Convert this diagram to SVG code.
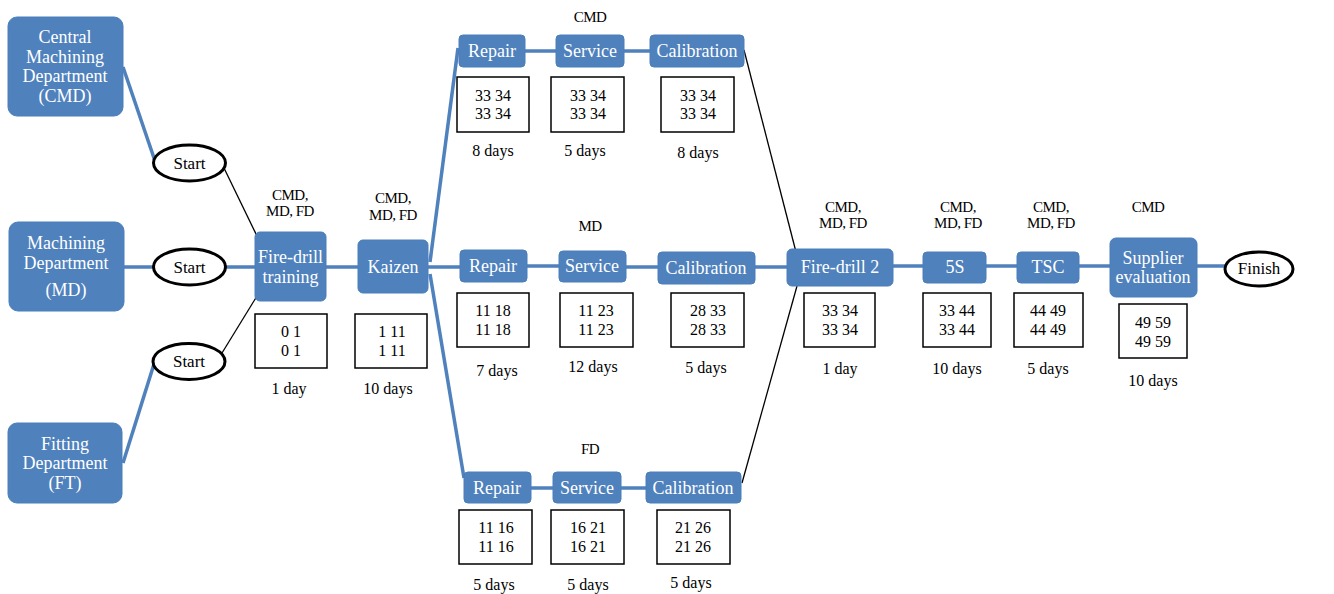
<svg xmlns="http://www.w3.org/2000/svg" width="1334" height="594" viewBox="0 0 1334 594" font-family="'Liberation Serif', 'DejaVu Serif', serif">
<style>
.box{fill:#4F81BD;stroke:#4A7EBB;stroke-width:1}
.bt{font-size:18px;fill:#fff;text-anchor:middle;dominant-baseline:central}
.dt{font-size:18px;fill:#fff;text-anchor:middle;dominant-baseline:central}
.st{fill:#fff;stroke:#000;stroke-width:3}
.stt{font-size:17px;fill:#000;text-anchor:middle;dominant-baseline:central}
.db{fill:#fff;stroke:#000;stroke-width:1.5}
.num{font-size:16px;fill:#000;text-anchor:middle;dominant-baseline:central}
.lbl{font-size:15px;fill:#000;text-anchor:middle;dominant-baseline:central;letter-spacing:-0.5px}
.bl{stroke:#4F81BD;stroke-width:3.5;fill:none}
.kl{stroke:#000;stroke-width:1.3;fill:none}
</style>
<rect width="1334" height="594" fill="#fff"/>
<g id="connectors">
<line class="bl" x1="123" y1="67" x2="155" y2="161"/>
<line class="bl" x1="124" y1="267" x2="153" y2="267"/>
<line class="bl" x1="226" y1="267" x2="255" y2="267"/>
<line class="bl" x1="123" y1="463" x2="154" y2="364"/>
<line class="kl" x1="224" y1="168" x2="257" y2="236"/>
<line class="kl" x1="222" y1="353" x2="257" y2="296"/>
<line class="bl" x1="326" y1="267" x2="358" y2="267"/>
<line class="bl" x1="430" y1="262" x2="458" y2="48"/>
<line class="bl" x1="428" y1="267" x2="460" y2="267"/>
<line class="bl" x1="430" y1="274" x2="464" y2="478"/>
<line class="bl" x1="525" y1="51" x2="556" y2="51"/>
<line class="bl" x1="624" y1="51" x2="650" y2="51"/>
<line class="bl" x1="527" y1="266" x2="559" y2="266"/>
<line class="bl" x1="626" y1="267" x2="658" y2="267"/>
<line class="bl" x1="755" y1="267" x2="787" y2="267"/>
<line class="bl" x1="531" y1="488" x2="553" y2="488"/>
<line class="bl" x1="621" y1="488" x2="646" y2="488"/>
<line class="kl" x1="744" y1="50" x2="796" y2="252"/>
<line class="kl" x1="742" y1="483" x2="797" y2="286"/>
<line class="bl" x1="893" y1="266" x2="923" y2="266"/>
<line class="bl" x1="986" y1="266" x2="1017" y2="266"/>
<line class="bl" x1="1079" y1="266" x2="1110" y2="266"/>
<line class="bl" x1="1197" y1="266" x2="1225" y2="266"/>
</g>
<g id="cmd-dept">
<rect class="box" x="8" y="17" width="115" height="99" rx="9"/>
<text class="dt" x="65" y="37">Central</text>
<text class="dt" x="65" y="57">Machining</text>
<text class="dt" x="65" y="76">Department</text>
<text class="dt" x="65" y="96">(CMD)</text>
</g>
<g id="md-dept">
<rect class="box" x="9" y="222" width="115" height="89" rx="9"/>
<text class="dt" x="66" y="243">Machining</text>
<text class="dt" x="66" y="263">Department</text>
<text class="dt" x="66" y="290">(MD)</text>
</g>
<g id="ft-dept">
<rect class="box" x="8" y="423" width="114" height="80" rx="9"/>
<text class="dt" x="65" y="444">Fitting</text>
<text class="dt" x="65" y="463">Department</text>
<text class="dt" x="65" y="483">(FT)</text>
</g>
<g id="start1">
<ellipse class="st" cx="189.5" cy="163" rx="36" ry="18"/>
<text class="stt" x="189.5" y="163">Start</text>
</g>
<g id="start2">
<ellipse class="st" cx="189.5" cy="267" rx="36" ry="18"/>
<text class="stt" x="189.5" y="267">Start</text>
</g>
<g id="start3">
<ellipse class="st" cx="189" cy="361.5" rx="36" ry="18"/>
<text class="stt" x="189" y="361.5">Start</text>
</g>
<g id="fire-drill-training">
<text class="lbl" x="290" y="195">CMD,</text>
<text class="lbl" x="290" y="211">MD, FD</text>
<rect class="box" x="255" y="232" width="71" height="69" rx="5"/>
<text class="bt" x="290.5" y="257">Fire-drill</text>
<text class="bt" x="290.5" y="277">training</text>
<rect class="db" x="255" y="314" width="72" height="54"/>
<text class="num" x="291" y="331">0 1</text>
<text class="num" x="291" y="350">0 1</text>
<text class="num" x="289" y="388">1 day</text>
</g>
<g id="kaizen">
<text class="lbl" x="393" y="198">CMD,</text>
<text class="lbl" x="393" y="215">MD, FD</text>
<rect class="box" x="358" y="240" width="70" height="53" rx="5"/>
<text class="bt" x="393" y="267">Kaizen</text>
<rect class="db" x="355" y="314" width="72" height="54"/>
<text class="num" x="392" y="331">1 11</text>
<text class="num" x="392" y="350">1 11</text>
<text class="num" x="388" y="388">10 days</text>
</g>
<text class="lbl" x="590" y="17">CMD</text>
<g id="cmd-repair">
<rect class="box" x="459" y="35" width="66" height="32" rx="4"/>
<text class="bt" x="492" y="51">Repair</text>
<rect class="db" x="457" y="77" width="72" height="55"/>
<text class="num" x="493" y="95">33 34</text>
<text class="num" x="493" y="113">33 34</text>
<text class="num" x="493" y="150">8 days</text>
</g>
<g id="cmd-service">
<rect class="box" x="556" y="35" width="68" height="32" rx="4"/>
<text class="bt" x="590" y="51">Service</text>
<rect class="db" x="551" y="77" width="73" height="55"/>
<text class="num" x="588" y="95">33 34</text>
<text class="num" x="588" y="113">33 34</text>
<text class="num" x="585" y="150">5 days</text>
</g>
<g id="cmd-calibration">
<rect class="box" x="650" y="35" width="94" height="32" rx="4"/>
<text class="bt" x="697" y="51">Calibration</text>
<rect class="db" x="661" y="77" width="73" height="55"/>
<text class="num" x="698" y="95">33 34</text>
<text class="num" x="698" y="113">33 34</text>
<text class="num" x="698" y="152">8 days</text>
</g>
<text class="lbl" x="590" y="226">MD</text>
<g id="md-repair">
<rect class="box" x="460" y="250" width="67" height="32" rx="4"/>
<text class="bt" x="493" y="266">Repair</text>
<rect class="db" x="457" y="293" width="72" height="54"/>
<text class="num" x="493" y="310">11 18</text>
<text class="num" x="493" y="329">11 18</text>
<text class="num" x="497" y="370">7 days</text>
</g>
<g id="md-service">
<rect class="box" x="559" y="251" width="67" height="31" rx="4"/>
<text class="bt" x="592" y="266">Service</text>
<rect class="db" x="560" y="293" width="73" height="54"/>
<text class="num" x="596" y="310">11 23</text>
<text class="num" x="596" y="329">11 23</text>
<text class="num" x="593" y="366">12 days</text>
</g>
<g id="md-calibration">
<rect class="box" x="658" y="252" width="97" height="32" rx="4"/>
<text class="bt" x="706" y="268">Calibration</text>
<rect class="db" x="671" y="293" width="73" height="54"/>
<text class="num" x="708" y="310">28 33</text>
<text class="num" x="708" y="329">28 33</text>
<text class="num" x="706" y="367">5 days</text>
</g>
<text class="lbl" x="590" y="449">FD</text>
<g id="fd-repair">
<rect class="box" x="464" y="472" width="67" height="31" rx="4"/>
<text class="bt" x="497" y="488">Repair</text>
<rect class="db" x="459" y="510" width="73" height="54"/>
<text class="num" x="496" y="527">11 16</text>
<text class="num" x="496" y="546">11 16</text>
<text class="num" x="494" y="584">5 days</text>
</g>
<g id="fd-service">
<rect class="box" x="553" y="472" width="68" height="31" rx="4"/>
<text class="bt" x="587" y="488">Service</text>
<rect class="db" x="551" y="510" width="73" height="54"/>
<text class="num" x="588" y="527">16 21</text>
<text class="num" x="588" y="546">16 21</text>
<text class="num" x="588" y="584">5 days</text>
</g>
<g id="fd-calibration">
<rect class="box" x="646" y="472" width="95" height="31" rx="4"/>
<text class="bt" x="693" y="488">Calibration</text>
<rect class="db" x="657" y="510" width="73" height="54"/>
<text class="num" x="693" y="527">21 26</text>
<text class="num" x="693" y="546">21 26</text>
<text class="num" x="691" y="582">5 days</text>
</g>
<g id="fire-drill-2">
<text class="lbl" x="843" y="207">CMD,</text>
<text class="lbl" x="843" y="223">MD, FD</text>
<rect class="box" x="787" y="249" width="106" height="37" rx="5"/>
<text class="bt" x="840" y="267">Fire-drill 2</text>
<rect class="db" x="804" y="293" width="71" height="54"/>
<text class="num" x="840" y="310">33 34</text>
<text class="num" x="840" y="329">33 34</text>
<text class="num" x="840" y="368">1 day</text>
</g>
<g id="five-s">
<text class="lbl" x="958" y="207">CMD,</text>
<text class="lbl" x="958" y="223">MD, FD</text>
<rect class="box" x="923" y="252" width="63" height="31" rx="4"/>
<text class="bt" x="955" y="267">5S</text>
<rect class="db" x="923" y="293" width="68" height="54"/>
<text class="num" x="957" y="310">33 44</text>
<text class="num" x="957" y="329">33 44</text>
<text class="num" x="957" y="368">10 days</text>
</g>
<g id="tsc">
<text class="lbl" x="1051" y="207">CMD,</text>
<text class="lbl" x="1051" y="223">MD, FD</text>
<rect class="box" x="1017" y="252" width="62" height="31" rx="4"/>
<text class="bt" x="1048" y="267">TSC</text>
<rect class="db" x="1014" y="293" width="69" height="54"/>
<text class="num" x="1048" y="310">44 49</text>
<text class="num" x="1048" y="329">44 49</text>
<text class="num" x="1048" y="368">5 days</text>
</g>
<g id="supplier-evaluation">
<text class="lbl" x="1148" y="207">CMD</text>
<rect class="box" x="1110" y="238" width="87" height="59" rx="6"/>
<text class="bt" x="1153" y="258">Supplier</text>
<text class="bt" x="1153" y="277">evaluation</text>
<rect class="db" x="1119" y="304" width="68" height="54"/>
<text class="num" x="1153" y="322">49 59</text>
<text class="num" x="1153" y="341">49 59</text>
<text class="num" x="1153" y="380">10 days</text>
</g>
<g id="finish">
<ellipse class="st" cx="1259" cy="269" rx="34" ry="17"/>
<text class="stt" x="1259" y="268">Finish</text>
</g>
</svg>
